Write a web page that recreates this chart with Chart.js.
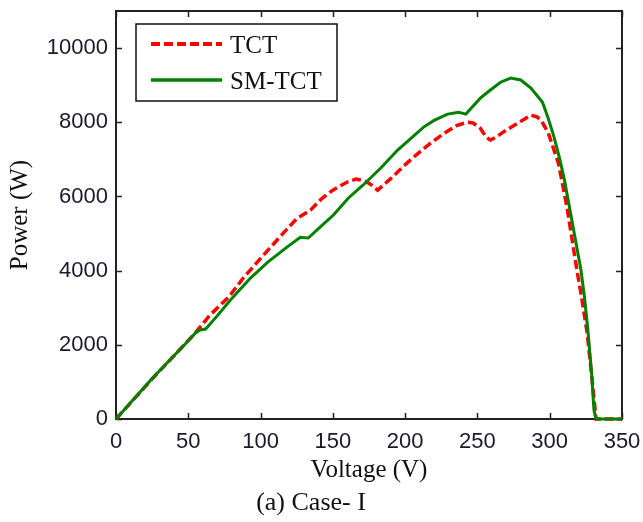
<!DOCTYPE html>
<html>
<head>
<meta charset="utf-8">
<script src="https://cdn.jsdelivr.net/npm/chart.js@4/dist/chart.umd.min.js"></script>
<style>
  body { margin: 0; background: #fff; }
  #wrap { width: 643px; height: 522px; }
</style>
</head>
<body>
<div id="wrap"><canvas id="pvChart" width="643" height="522"></canvas></div>
<script>
// TCT curve, voltage (V) and power (W)
const tctVolts = [0, 25, 50, 55, 65, 78, 88, 100, 115.7, 125, 134.5, 142, 150, 160, 166, 172, 176, 181,
    190, 199, 208, 217.6, 227, 236, 243, 247, 252, 256, 259, 263, 268, 278, 287, 291, 294, 299,
    306, 312, 318.8, 322, 326, 330, 332, 350];
const tctPower = [0, 1080, 2115, 2330, 2800, 3290, 3800, 4330, 5010, 5400, 5630, 5930, 6170, 6390, 6470, 6420, 6330, 6170,
    6480, 6820, 7130, 7440, 7700, 7920, 8000, 7980, 7840, 7600, 7520, 7600, 7740, 7980, 8190, 8150, 8060, 7710,
    6900, 5700, 4015, 3300, 2300, 800, 0, 0];

// SM-TCT curve
const smVolts = [0, 25, 50, 55, 58, 62, 70, 79, 93, 105, 118.5, 127.5, 133, 140, 150.4, 160.8, 171, 183,
    194.8, 212.8, 220, 229.4, 237, 242, 252, 259, 266, 273, 280, 287, 295, 299, 303, 307,
    310, 313, 317, 321.6, 324, 326.4, 329, 330.6, 332, 350];
const smPower = [0, 1090, 2110, 2320, 2400, 2425, 2780, 3200, 3800, 4230, 4640, 4900, 4880, 5130, 5500, 5960, 6310, 6760,
    7250, 7870, 8050, 8220, 8270, 8220, 8650, 8870, 9080, 9190, 9140, 8920, 8540, 8100, 7600, 7000,
    6480, 5850, 5000, 4015, 3300, 2400, 1200, 240, 0, 0];

const xTicks = [0, 50, 100, 150, 200, 250, 300, 350];
const yTicks = [0, 2000, 4000, 6000, 8000, 10000];

const toPoints = (xs, ys) => xs.map((x, i) => ({x: x, y: ys[i]}));

// chart area is fixed so it sits where the original axes box is
const AREA = {left: 116, top: 11, right: 622, bottom: 419};
const CAPTION_BLOCK = 26 * 1.2 + 3;

const serif = "'Liberation Serif', 'Times New Roman', serif";
const sans = "'Liberation Sans', Arial, sans-serif";

// box round the plot with inward tick marks on all four sides (under the curves)
const boxPlugin = {
    id: 'boxTicks',
    beforeDatasetsDraw(chart) {
        const {ctx, chartArea: a, scales} = chart;
        const len = 6;
        ctx.save();
        ctx.strokeStyle = '#222';
        ctx.lineWidth = 1.5;
        scales.x.ticks.forEach(t => {
            const px = Math.round(scales.x.getPixelForValue(t.value)) + 0.5;
            ctx.beginPath();
            ctx.moveTo(px, a.bottom); ctx.lineTo(px, a.bottom - len);
            ctx.moveTo(px, a.top); ctx.lineTo(px, a.top + len);
            ctx.stroke();
        });
        scales.y.ticks.forEach(t => {
            const py = Math.round(scales.y.getPixelForValue(t.value)) + 0.5;
            ctx.beginPath();
            ctx.moveTo(a.left, py); ctx.lineTo(a.left + len, py);
            ctx.moveTo(a.right, py); ctx.lineTo(a.right - len, py);
            ctx.stroke();
        });
        ctx.lineWidth = 2;
        ctx.strokeRect(a.left, a.top, a.right - a.left, a.bottom - a.top);
        ctx.restore();
    }
};

// legend drawn inside the plot, framed like the original
const boxLegend = {
    id: 'boxLegend',
    afterDraw(chart) {
        const ctx = chart.ctx;
        const x0 = 136, y0 = 24, w = 201, h = 77;
        ctx.save();
        ctx.fillStyle = '#fff';
        ctx.fillRect(x0, y0, w, h);
        ctx.strokeStyle = '#111';
        ctx.lineWidth = 1.5;
        ctx.strokeRect(x0, y0, w, h);
        const rows = [44, 80];
        chart.data.datasets.forEach((ds, i) => {
            const y = rows[i];
            ctx.beginPath();
            ctx.strokeStyle = ds.borderColor;
            ctx.lineWidth = ds.borderWidth + 0.5;
            ctx.setLineDash(ds.borderDash || []);
            ctx.moveTo(151, y);
            ctx.lineTo(222, y);
            ctx.stroke();
            ctx.setLineDash([]);
            ctx.fillStyle = '#111';
            ctx.font = '25px ' + serif;
            ctx.textBaseline = 'middle';
            ctx.fillText(ds.label, 230, y + 2);
        });
        ctx.restore();
    }
};

new Chart(document.getElementById('pvChart'), {
    type: 'line',
    data: {
        datasets: [{
            label: 'TCT',
            data: toPoints(tctVolts, tctPower),
            borderColor: '#ff0000',
            borderWidth: 3.5,
            borderDash: [9, 4],
            pointRadius: 0,
            tension: 0,
            clip: false,
            order: 1,
            fill: false
        }, {
            label: 'SM-TCT',
            data: toPoints(smVolts, smPower),
            borderColor: '#008000',
            borderWidth: 3,
            pointRadius: 0,
            tension: 0,
            clip: false,
            order: 0,
            fill: false
        }]
    },
    options: {
        responsive: false,
        animation: false,
        layout: {padding: {top: AREA.top, right: 643 - AREA.right, left: 0, bottom: 0}},
        scales: {
            x: {
                type: 'linear',
                min: 0,
                max: 350,
                afterBuildTicks: s => { s.ticks = xTicks.map(v => ({value: v})); },
                afterFit: s => {
                    s.height = 522 - AREA.bottom - CAPTION_BLOCK;
                    s.paddingLeft = 0;
                    s.paddingRight = 0;
                },
                grid: {display: false, drawTicks: false},
                border: {display: false},
                ticks: {
                    padding: 10,
                    color: '#1a1a2a',
                    font: {family: sans, size: 22},
                    maxRotation: 0,
                    callback: v => String(v)
                },
                title: {
                    display: true,
                    text: 'Voltage (V)',
                    color: '#111',
                    font: {family: serif, size: 25},
                    padding: {top: 0, bottom: 2}
                }
            },
            y: {
                min: 0,
                max: 11000,
                afterBuildTicks: s => { s.ticks = yTicks.map(v => ({value: v})); },
                afterFit: s => {
                    s.width = AREA.left;
                    s.paddingTop = 0;
                    s.paddingBottom = 0;
                },
                grid: {display: false, drawTicks: false},
                border: {display: false},
                ticks: {
                    padding: 8,
                    color: '#1a1a2a',
                    font: {family: sans, size: 22},
                    callback: v => String(v)
                },
                title: {
                    display: true,
                    text: 'Power (W)',
                    color: '#111',
                    font: {family: serif, size: 25},
                    padding: {top: 5, bottom: 0}
                }
            }
        },
        plugins: {
            legend: {display: false},
            tooltip: {enabled: false},
            title: {
                display: true,
                position: 'bottom',
                text: '(a) Case- I',
                color: '#111',
                font: {family: serif, size: 26, weight: 'normal'},
                padding: {top: 0, bottom: 3}
            }
        }
    },
    plugins: [boxPlugin, boxLegend]
});
</script>
</body>
</html>
